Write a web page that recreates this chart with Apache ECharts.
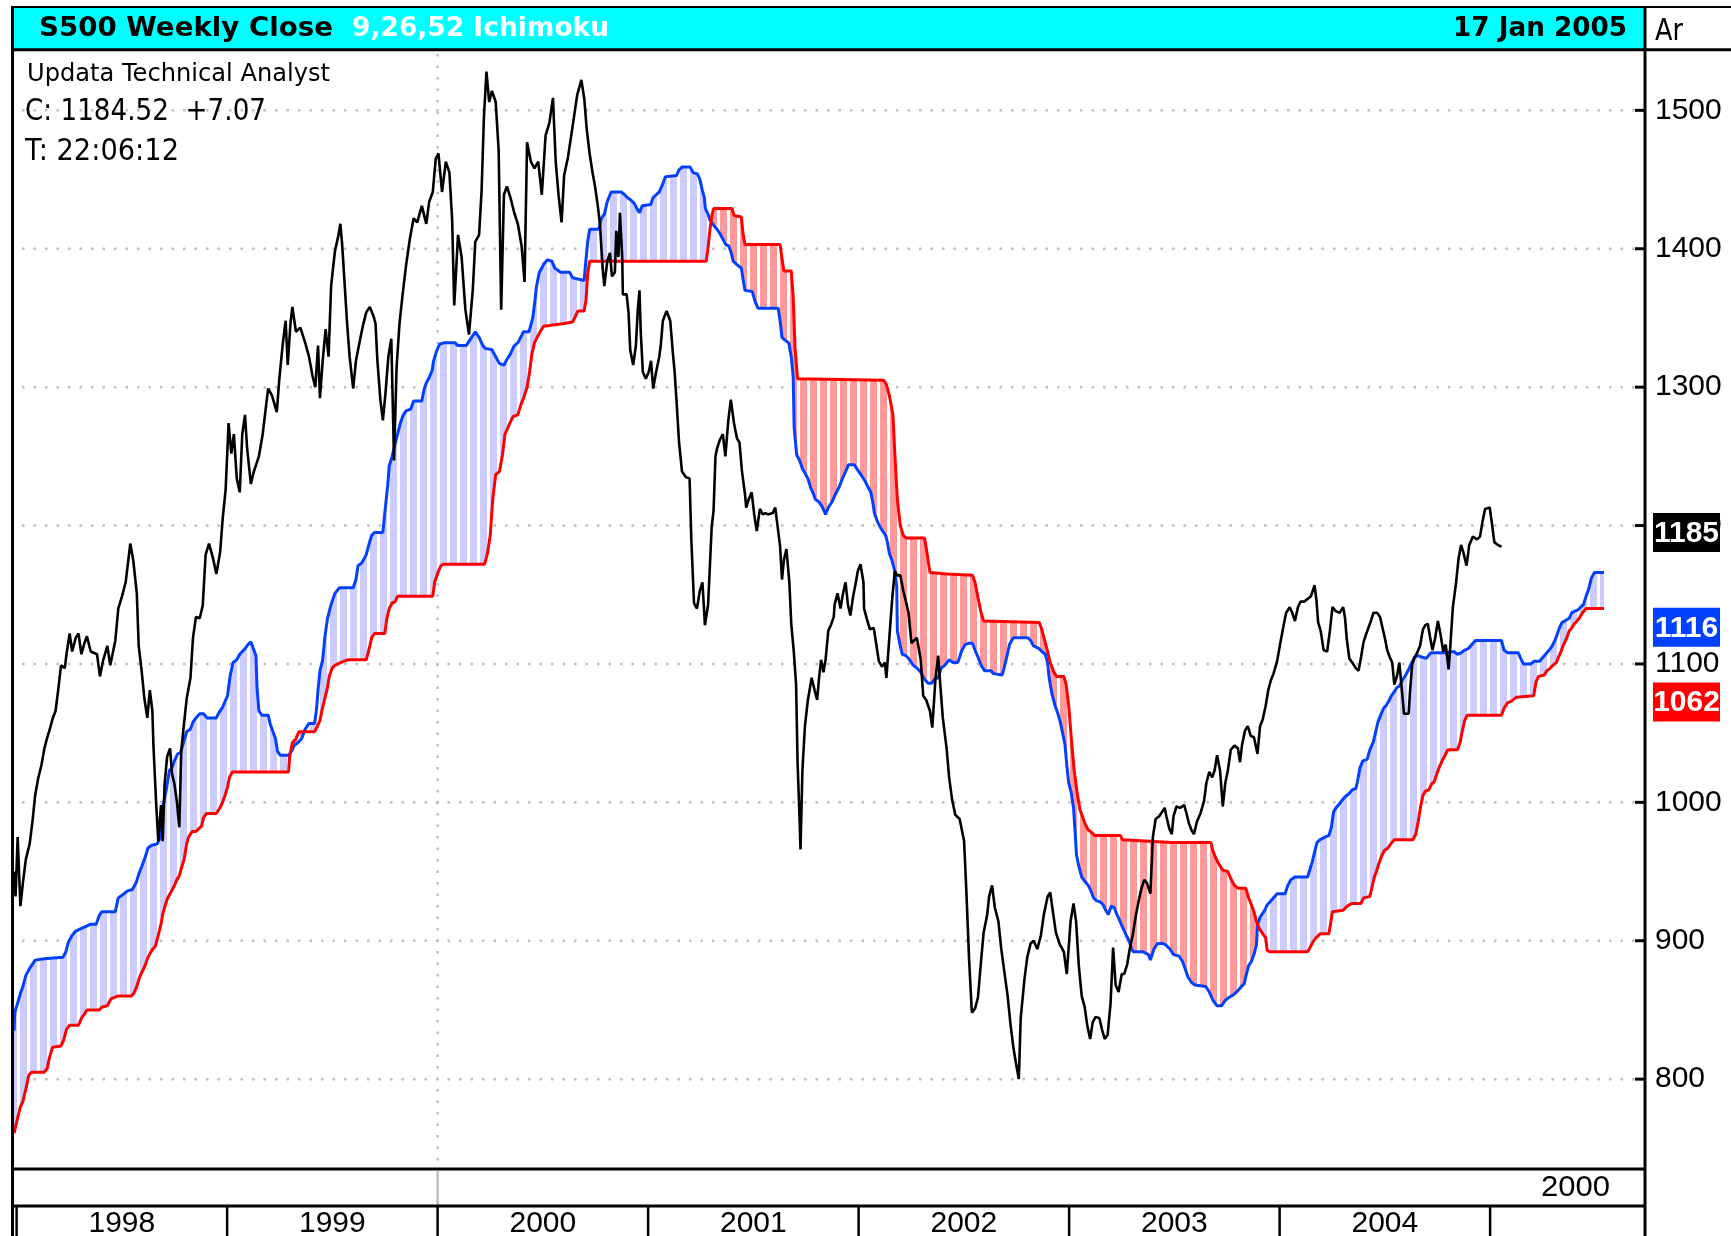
<!DOCTYPE html>
<html><head><meta charset="utf-8">
<script src="https://cdn.jsdelivr.net/npm/echarts@6/dist/echarts.min.js"></script>
<style>html,body{margin:0;padding:0;background:#fff}#c{width:1731px;height:1236px}</style>
</head><body><div id="c"></div>
<script>
// ---------------- DATA (x = year fraction, y = index value) ----------------
const yTicks = [800, 900, 1000, 1100, 1200, 1300, 1400, 1500];
const yearStarts = [1998, 1999, 2000, 2001, 2002, 2003, 2004, 2005];
const yearLabels = ['1998', '1999', '2000', '2001', '2002', '2003', '2004'];
const decadeStarts = [2000];
const decadeLabel = '2000';
const tagValues = [1184.52, 1116, 1062];
const tagLabels = ['1185', '1116', '1062'];
const titleMain = 'S500 Weekly Close';
const titleStudy = '9,26,52 Ichimoku';
const titleDate = '17 Jan 2005';
const cornerText = 'Ar';
const infoLines = ['Updata Technical Analyst', 'C: 1184.52  +7.07', 'T: 22:06:12'];

const closeData = [
[1997.988,950],[1997.995,932],[1998.005,975],[1998.018,925],[1998.030,942],[1998.044,959],[1998.062,970],[1998.076,987],[1998.088,1005],[1998.102,1017],[1998.118,1027],[1998.132,1039],[1998.144,1046],[1998.158,1053],[1998.172,1061],[1998.185,1066],[1998.199,1083],[1998.211,1099],[1998.229,1097],[1998.237,1107],[1998.252,1122],[1998.264,1109],[1998.281,1119],[1998.294,1122],[1998.308,1107],[1998.322,1115],[1998.334,1120],[1998.352,1109],[1998.382,1107],[1998.396,1091],[1998.410,1102],[1998.431,1113],[1998.445,1099],[1998.469,1117],[1998.483,1140],[1998.501,1149],[1998.518,1159],[1998.540,1187],[1998.554,1175],[1998.571,1151],[1998.580,1113],[1998.594,1095],[1998.607,1075],[1998.621,1061],[1998.633,1081],[1998.645,1066],[1998.650,1041],[1998.663,999],[1998.673,972],[1998.686,998],[1998.694,972],[1998.703,1013],[1998.715,1033],[1998.729,1039],[1998.738,1021],[1998.750,1013],[1998.761,1001],[1998.773,982],[1998.782,1037],[1998.796,1058],[1998.808,1075],[1998.826,1090],[1998.838,1119],[1998.852,1134],[1998.870,1133],[1998.884,1142],[1998.898,1179],[1998.914,1187],[1998.932,1177],[1998.949,1165],[1998.967,1181],[1998.979,1205],[1998.993,1226],[1999.007,1274],[1999.020,1252],[1999.032,1266],[1999.046,1234],[1999.060,1224],[1999.072,1266],[1999.085,1280],[1999.095,1256],[1999.113,1230],[1999.127,1239],[1999.151,1250],[1999.169,1266],[1999.183,1284],[1999.195,1299],[1999.213,1294],[1999.236,1282],[1999.248,1306],[1999.265,1332],[1999.278,1348],[1999.288,1316],[1999.301,1346],[1999.310,1358],[1999.327,1340],[1999.348,1343],[1999.371,1332],[1999.389,1322],[1999.406,1308],[1999.419,1300],[1999.432,1330],[1999.441,1292],[1999.454,1319],[1999.468,1342],[1999.482,1322],[1999.494,1373],[1999.512,1398],[1999.529,1410],[1999.538,1418],[1999.547,1402],[1999.559,1373],[1999.570,1346],[1999.582,1322],[1999.599,1299],[1999.612,1319],[1999.626,1330],[1999.643,1343],[1999.661,1354],[1999.678,1358],[1999.696,1351],[1999.705,1346],[1999.714,1319],[1999.728,1291],[1999.740,1276],[1999.752,1295],[1999.766,1322],[1999.780,1335],[1999.793,1247],[1999.805,1314],[1999.819,1346],[1999.833,1366],[1999.851,1389],[1999.868,1407],[1999.886,1422],[1999.903,1419],[1999.925,1431],[1999.946,1418],[1999.960,1434],[1999.977,1441],[1999.991,1465],[2000.004,1469],[2000.021,1441],[2000.039,1463],[2000.056,1455],[2000.069,1421],[2000.079,1359],[2000.097,1410],[2000.114,1394],[2000.132,1356],[2000.149,1338],[2000.167,1370],[2000.179,1405],[2000.197,1410],[2000.209,1442],[2000.220,1495],[2000.232,1528],[2000.245,1506],[2000.258,1514],[2000.276,1506],[2000.290,1471],[2000.302,1356],[2000.315,1439],[2000.329,1445],[2000.346,1437],[2000.364,1426],[2000.381,1418],[2000.399,1402],[2000.413,1376],[2000.425,1477],[2000.443,1463],[2000.460,1458],[2000.478,1463],[2000.495,1439],[2000.513,1482],[2000.531,1491],[2000.548,1509],[2000.561,1463],[2000.575,1438],[2000.589,1419],[2000.601,1453],[2000.619,1466],[2000.636,1483],[2000.663,1511],
[2000.683,1522],[2000.697,1508],[2000.708,1487],[2000.722,1469],[2000.736,1455],[2000.748,1445],[2000.761,1431],[2000.771,1418],[2000.784,1386],[2000.792,1373],[2000.806,1391],[2000.819,1397],[2000.828,1380],[2000.842,1383],[2000.849,1413],[2000.859,1394],[2000.866,1426],[2000.877,1394],[2000.880,1367],[2000.898,1367],[2000.907,1354],[2000.915,1327],[2000.929,1316],[2000.942,1330],[2000.951,1356],[2000.959,1370],[2000.965,1340],[2000.975,1311],[2000.989,1306],[2001.003,1311],[2001.014,1319],[2001.024,1299],[2001.038,1311],[2001.053,1322],[2001.060,1330],[2001.070,1348],[2001.088,1355],[2001.105,1348],[2001.118,1324],[2001.126,1311],[2001.135,1290],[2001.147,1260],[2001.161,1239],[2001.179,1235],[2001.197,1234],[2001.205,1191],[2001.218,1144],[2001.232,1140],[2001.246,1153],[2001.258,1159],[2001.270,1128],[2001.285,1143],[2001.293,1169],[2001.302,1199],[2001.311,1211],[2001.320,1250],[2001.328,1256],[2001.341,1262],[2001.355,1266],[2001.367,1250],[2001.381,1276],[2001.393,1291],[2001.408,1274],[2001.422,1263],[2001.434,1260],[2001.446,1239],[2001.460,1223],[2001.466,1213],[2001.478,1219],[2001.492,1224],[2001.504,1208],[2001.516,1196],[2001.531,1212],[2001.545,1208],[2001.557,1209],[2001.569,1208],[2001.592,1209],[2001.604,1213],[2001.618,1196],[2001.627,1185],[2001.636,1161],[2001.645,1175],[2001.657,1183],[2001.671,1159],[2001.680,1129],[2001.692,1109],[2001.703,1085],[2001.710,1029],[2001.720,986],[2001.724,966],[2001.733,1023],[2001.745,1055],[2001.759,1074],[2001.777,1090],[2001.791,1081],[2001.803,1074],[2001.812,1090],[2001.822,1103],[2001.833,1094],[2001.843,1103],[2001.856,1124],[2001.868,1128],[2001.882,1134],[2001.886,1143],[2001.900,1151],[2001.914,1140],[2001.926,1151],[2001.938,1159],[2001.949,1143],[2001.961,1135],[2001.973,1148],[2001.987,1159],[2001.996,1167],[2002.009,1172],[2002.023,1159],[2002.026,1140],[2002.040,1132],[2002.054,1125],[2002.072,1126],[2002.084,1114],[2002.096,1102],[2002.111,1098],[2002.125,1101],[2002.132,1090],[2002.146,1119],[2002.160,1148],[2002.172,1167],[2002.184,1164],[2002.198,1164],[2002.212,1153],[2002.225,1145],[2002.237,1137],[2002.251,1115],[2002.277,1119],[2002.295,1103],[2002.307,1077],[2002.321,1074],[2002.339,1066],[2002.350,1054],[2002.365,1089],[2002.378,1106],[2002.388,1085],[2002.400,1061],[2002.418,1039],[2002.430,1018],[2002.444,1002],[2002.459,991],[2002.480,988],[2002.501,972],[2002.511,939],[2002.525,886],[2002.538,848],[2002.553,851],[2002.567,859],[2002.582,886],[2002.594,906],[2002.611,919],[2002.620,932],[2002.634,940],[2002.647,924],[2002.664,914],[2002.677,895],[2002.691,879],[2002.708,860],[2002.722,839],[2002.735,823],[2002.747,812],[2002.761,800],[2002.770,844],[2002.787,871],[2002.801,888],[2002.817,898],[2002.831,900],[2002.849,894],[2002.866,904],[2002.880,919],[2002.898,932],[2002.910,935],[2002.924,920],[2002.937,906],[2002.954,898],[2002.975,892],[2002.989,876],[2003.007,914],[2003.021,927],[2003.033,914],[2003.046,882],[2003.060,860],[2003.074,852],[2003.086,839],[2003.100,829],[2003.112,841],[2003.126,845],[2003.144,844],[2003.156,836],[2003.169,829],[2003.183,832],[2003.197,855],[2003.209,895],[2003.221,868],[2003.235,863],[2003.250,876],[2003.262,876],[2003.276,883],[2003.288,894],[2003.302,904],[2003.318,919],[2003.332,930],
[2003.344,938],[2003.357,944],[2003.369,942],[2003.386,934],[2003.398,975],[2003.411,988],[2003.428,990],[2003.454,996],[2003.462,990],[2003.476,981],[2003.488,977],[2003.496,990],[2003.510,997],[2003.527,996],[2003.547,998],[2003.556,993],[2003.569,985],[2003.581,980],[2003.593,977],[2003.607,986],[2003.624,992],[2003.641,1001],[2003.652,1014],[2003.666,1022],[2003.680,1018],[2003.691,1023],[2003.703,1034],[2003.717,1023],[2003.730,997],[2003.742,1014],[2003.754,1023],[2003.768,1038],[2003.785,1041],[2003.802,1039],[2003.812,1029],[2003.822,1042],[2003.836,1052],[2003.849,1055],[2003.863,1048],[2003.878,1047],[2003.895,1035],[2003.907,1055],[2003.920,1060],[2003.934,1070],[2003.946,1081],[2003.958,1088],[2003.971,1093],[2003.988,1102],[2004.002,1114],[2004.019,1128],[2004.031,1137],[2004.048,1141],[2004.060,1137],[2004.073,1131],[2004.087,1141],[2004.099,1145],[2004.116,1145],[2004.133,1147],[2004.149,1149],[2004.166,1157],[2004.175,1146],[2004.183,1130],[2004.195,1124],[2004.209,1110],[2004.226,1109],[2004.239,1124],[2004.251,1141],[2004.268,1138],[2004.285,1137],[2004.302,1141],[2004.311,1133],[2004.319,1118],[2004.331,1104],[2004.345,1101],[2004.362,1097],[2004.375,1095],[2004.387,1105],[2004.399,1116],[2004.412,1122],[2004.429,1129],[2004.446,1137],[2004.463,1137],[2004.477,1134],[2004.489,1126],[2004.501,1118],[2004.511,1110],[2004.523,1105],[2004.535,1101],[2004.545,1085],[2004.557,1091],[2004.569,1101],[2004.579,1084],[2004.591,1064],[2004.613,1064],[2004.620,1081],[2004.630,1100],[2004.642,1105],[2004.653,1108],[2004.667,1113],[2004.681,1125],[2004.692,1128],[2004.704,1129],[2004.714,1120],[2004.726,1110],[2004.738,1118],[2004.752,1131],[2004.765,1121],[2004.777,1109],[2004.789,1114],[2004.803,1096],[2004.811,1113],[2004.823,1141],[2004.837,1157],[2004.850,1176],[2004.862,1186],[2004.874,1180],[2004.888,1171],[2004.901,1186],[2004.918,1192],[2004.938,1190],[2004.952,1192],[2004.964,1203],[2004.976,1212],[2004.998,1213],[2005.010,1200],[2005.020,1188],[2005.037,1186],[2005.054,1184.52]
];

const spanA = [
[1997.988,835],[1997.991,848],[1998.005,855],[1998.018,862],[1998.030,867],[1998.044,875],[1998.062,880],[1998.088,886],[1998.132,887],[1998.220,888],[1998.234,892],[1998.246,899],[1998.264,904],[1998.281,907],[1998.308,909],[1998.325,910],[1998.352,912],[1998.378,912],[1998.392,918],[1998.404,921],[1998.469,921],[1998.483,931],[1998.510,934],[1998.527,936],[1998.550,937],[1998.568,942],[1998.580,948],[1998.598,955],[1998.612,961],[1998.624,967],[1998.642,969],[1998.668,970],[1998.680,974],[1998.694,996],[1998.712,1010],[1998.726,1023],[1998.738,1025],[1998.747,1029],[1998.765,1035],[1998.779,1036],[1998.796,1045],[1998.808,1051],[1998.826,1053],[1998.838,1058],[1998.852,1061],[1998.870,1064],[1998.888,1064],[1998.905,1061],[1998.949,1061],[1998.962,1065],[1998.976,1068],[1999.002,1077],[1999.014,1091],[1999.028,1101],[1999.046,1103],[1999.060,1107],[1999.072,1109],[1999.085,1111],[1999.099,1114],[1999.113,1116],[1999.125,1111],[1999.137,1106],[1999.142,1083],[1999.151,1066],[1999.165,1063],[1999.195,1063],[1999.204,1057],[1999.218,1051],[1999.230,1046],[1999.239,1037],[1999.253,1034],[1999.292,1034],[1999.310,1038],[1999.318,1041],[1999.336,1043],[1999.354,1046],[1999.371,1053],[1999.389,1057],[1999.415,1057],[1999.424,1066],[1999.432,1081],[1999.441,1095],[1999.454,1103],[1999.464,1119],[1999.477,1133],[1999.494,1143],[1999.512,1151],[1999.534,1155],[1999.599,1155],[1999.612,1161],[1999.622,1171],[1999.640,1173],[1999.661,1179],[1999.675,1187],[1999.687,1193],[1999.700,1195],[1999.740,1195],[1999.749,1209],[1999.763,1229],[1999.770,1243],[1999.784,1250],[1999.798,1259],[1999.810,1266],[1999.823,1274],[1999.837,1280],[1999.851,1283],[1999.872,1284],[1999.886,1290],[1999.925,1290],[1999.935,1298],[1999.946,1303],[1999.960,1307],[1999.974,1312],[1999.981,1319],[1999.995,1326],[2000.009,1331],[2000.030,1332],[2000.083,1332],[2000.097,1330],[2000.136,1330],[2000.153,1334],[2000.179,1340],[2000.197,1336],[2000.215,1330],[2000.227,1328],[2000.258,1327],[2000.276,1322],[2000.294,1317],[2000.315,1316],[2000.329,1320],[2000.346,1324],[2000.364,1330],[2000.381,1332],[2000.395,1336],[2000.408,1340],[2000.434,1340],[2000.452,1350],[2000.462,1362],[2000.469,1372],[2000.483,1383],[2000.495,1386],[2000.504,1389],[2000.522,1392],[2000.543,1391],[2000.557,1386],[2000.584,1383],[2000.627,1383],[2000.641,1379],[2000.696,1377],
[2000.701,1386],[2000.713,1405],[2000.722,1414],[2000.766,1414],[2000.778,1422],[2000.792,1425],[2000.806,1434],[2000.824,1441],[2000.872,1441],[2000.889,1439],[2000.901,1437],[2000.919,1435],[2000.933,1433],[2000.947,1429],[2000.959,1426],[2000.972,1431],[2001.012,1432],[2001.024,1437],[2001.038,1439],[2001.053,1441],[2001.070,1447],[2001.082,1452],[2001.135,1453],[2001.147,1457],[2001.161,1459],[2001.200,1459],[2001.214,1455],[2001.235,1454],[2001.246,1450],[2001.258,1442],[2001.267,1437],[2001.272,1429],[2001.285,1425],[2001.293,1421],[2001.311,1417],[2001.328,1414],[2001.341,1411],[2001.355,1407],[2001.369,1403],[2001.383,1402],[2001.393,1398],[2001.404,1391],[2001.418,1389],[2001.443,1386],[2001.451,1378],[2001.460,1370],[2001.495,1369],[2001.508,1362],[2001.522,1357],[2001.618,1357],[2001.627,1348],[2001.636,1336],[2001.650,1334],[2001.668,1332],[2001.680,1322],[2001.689,1308],[2001.694,1270],[2001.706,1251],[2001.720,1247],[2001.733,1241],[2001.745,1238],[2001.759,1234],[2001.773,1227],[2001.785,1223],[2001.794,1219],[2001.812,1217],[2001.829,1213],[2001.843,1208],[2001.856,1213],[2001.873,1217],[2001.891,1223],[2001.908,1228],[2001.926,1235],[2001.938,1239],[2001.952,1244],[2001.979,1244],[2001.996,1240],[2002.014,1236],[2002.031,1232],[2002.044,1228],[2002.058,1224],[2002.067,1217],[2002.075,1209],[2002.089,1203],[2002.102,1199],[2002.114,1196],[2002.128,1193],[2002.137,1188],[2002.146,1180],[2002.158,1175],[2002.172,1167],[2002.181,1156],[2002.184,1124],[2002.195,1115],[2002.207,1107],[2002.225,1106],[2002.242,1103],[2002.260,1099],[2002.277,1097],[2002.295,1094],[2002.313,1089],[2002.330,1086],[2002.348,1086],[2002.360,1089],[2002.378,1090],[2002.392,1097],[2002.409,1099],[2002.430,1103],[2002.448,1101],[2002.471,1101],[2002.480,1105],[2002.488,1109],[2002.506,1114],[2002.524,1115],[2002.541,1115],[2002.553,1110],[2002.567,1105],[2002.582,1099],[2002.599,1095],[2002.629,1095],[2002.641,1093],[2002.682,1092],[2002.691,1097],[2002.705,1106],[2002.717,1114],[2002.735,1119],[2002.805,1119],[2002.817,1117],[2002.831,1113],[2002.858,1111],[2002.870,1109],[2002.887,1107],[2002.898,1101],[2002.905,1090],[2002.919,1078],[2002.933,1070],[2002.945,1065],[2002.958,1058],[2002.968,1051],[2002.980,1042],[2002.989,1027],[2002.998,1014],[2003.010,1007],[2003.021,996],[2003.028,980],[2003.035,962],[2003.046,954],[2003.060,946],[2003.074,943],[2003.091,940],[2003.104,936],[2003.116,931],[2003.130,929],[2003.148,928],[2003.162,926],[2003.174,922],[2003.186,919],[2003.200,925],[2003.214,924],[2003.227,919],[2003.239,915],[2003.253,910],[2003.271,904],[2003.285,900],[2003.297,894],[2003.306,892],
[2003.352,892],[2003.377,890],[2003.386,886],[2003.403,894],[2003.420,898],[2003.445,898],[2003.459,897],[2003.479,894],[2003.496,890],[2003.522,889],[2003.539,885],[2003.551,880],[2003.564,874],[2003.581,870],[2003.598,868],[2003.649,867],[2003.666,863],[2003.683,857],[2003.703,853],[2003.725,853],[2003.742,857],[2003.759,859],[2003.781,861],[2003.802,864],[2003.819,867],[2003.832,869],[2003.839,874],[2003.853,882],[2003.866,885],[2003.878,890],[2003.890,897],[2003.895,911],[2003.907,917],[2003.929,922],[2003.941,926],[2003.954,928],[2003.971,931],[2003.988,934],[2004.026,934],[2004.039,940],[2004.053,944],[2004.073,946],[2004.133,946],[2004.141,950],[2004.155,957],[2004.166,964],[2004.178,971],[2004.192,973],[2004.217,975],[2004.234,976],[2004.246,982],[2004.256,993],[2004.268,996],[2004.280,998],[2004.294,1001],[2004.311,1004],[2004.328,1006],[2004.345,1009],[2004.362,1010],[2004.370,1015],[2004.382,1025],[2004.395,1030],[2004.416,1031],[2004.429,1038],[2004.446,1044],[2004.455,1050],[2004.467,1058],[2004.480,1063],[2004.494,1068],[2004.506,1070],[2004.518,1073],[2004.531,1077],[2004.545,1080],[2004.557,1083],[2004.569,1084],[2004.582,1088],[2004.599,1092],[2004.613,1096],[2004.625,1100],[2004.642,1105],[2004.658,1106],[2004.675,1105],[2004.697,1104],[2004.718,1108],[2004.786,1108],[2004.828,1109],[2004.845,1107],[2004.862,1108],[2004.879,1110],[2004.896,1111],[2004.913,1114],[2004.930,1117],[2005.054,1117],[2005.066,1110],[2005.083,1108],[2005.134,1108],[2005.145,1104],[2005.159,1100],[2005.193,1100],[2005.210,1102],[2005.235,1102],[2005.252,1105],[2005.269,1108],[2005.281,1110],[2005.295,1113],[2005.308,1117],[2005.320,1122],[2005.329,1126],[2005.342,1130],[2005.354,1131],[2005.376,1133],[2005.388,1137],[2005.400,1138],[2005.417,1139],[2005.430,1141],[2005.444,1143],[2005.456,1149],[2005.468,1154],[2005.481,1162],[2005.495,1166],[2005.541,1166]
];

const spanB = [
[1997.988,761],[1998.005,772],[1998.018,780],[1998.030,784],[1998.044,793],[1998.058,803],[1998.071,805],[1998.132,805],[1998.146,808],[1998.155,815],[1998.171,823],[1998.211,824],[1998.223,828],[1998.237,836],[1998.252,839],[1998.294,839],[1998.308,844],[1998.322,847],[1998.334,850],[1998.392,850],[1998.404,852],[1998.431,853],[1998.448,858],[1998.480,860],[1998.545,860],[1998.557,862],[1998.571,867],[1998.585,874],[1998.598,878],[1998.610,882],[1998.624,888],[1998.642,893],[1998.659,896],[1998.673,904],[1998.686,912],[1998.694,919],[1998.703,924],[1998.715,930],[1998.729,934],[1998.747,939],[1998.761,944],[1998.773,947],[1998.782,952],[1998.796,959],[1998.808,970],[1998.817,975],[1998.835,979],[1998.852,979],[1998.866,981],[1998.879,983],[1998.888,989],[1998.902,992],[1998.949,992],[1998.962,995],[1998.976,999],[1998.990,1005],[1999.002,1011],[1999.011,1018],[1999.025,1022],[1999.292,1022],[1999.297,1033],[1999.310,1043],[1999.327,1046],[1999.341,1051],[1999.415,1051],[1999.429,1055],[1999.441,1059],[1999.450,1066],[1999.464,1075],[1999.477,1083],[1999.485,1091],[1999.499,1097],[1999.512,1099],[1999.538,1101],[1999.573,1103],[1999.661,1103],[1999.675,1111],[1999.687,1119],[1999.700,1122],[1999.749,1122],[1999.758,1132],[1999.770,1140],[1999.784,1144],[1999.798,1145],[1999.810,1149],[1999.977,1149],[1999.986,1159],[2000.004,1167],[2000.016,1171],[2000.027,1172],[2000.223,1172],[2000.237,1180],[2000.250,1193],[2000.262,1219],[2000.276,1237],[2000.294,1239],[2000.308,1251],[2000.320,1266],[2000.332,1270],[2000.346,1275],[2000.360,1279],[2000.381,1280],[2000.395,1287],[2000.408,1292],[2000.425,1300],[2000.437,1311],[2000.448,1324],[2000.460,1332],[2000.473,1336],[2000.487,1340],[2000.504,1344],[2000.601,1346],[2000.641,1347],[2000.654,1351],[2000.666,1355],[2000.696,1355],
[2000.705,1363],[2000.713,1382],[2000.722,1391],[2001.276,1391],[2001.285,1401],[2001.293,1413],[2001.302,1423],[2001.311,1429],[2001.399,1429],[2001.408,1424],[2001.443,1423],[2001.451,1411],[2001.460,1403],[2001.627,1403],[2001.636,1393],[2001.645,1384],[2001.680,1384],[2001.689,1366],[2001.698,1328],[2001.710,1306],[2002.119,1305],[2002.132,1302],[2002.146,1294],[2002.163,1280],[2002.172,1252],[2002.184,1219],[2002.198,1200],[2002.212,1193],[2002.225,1191],[2002.313,1191],[2002.321,1184],[2002.330,1175],[2002.339,1166],[2002.418,1165],[2002.427,1164],[2002.541,1164],[2002.553,1159],[2002.567,1148],[2002.582,1137],[2002.594,1131],[2002.858,1130],[2002.870,1125],[2002.884,1117],[2002.898,1109],[2002.910,1101],[2002.928,1094],[2002.940,1091],[2002.975,1091],[2002.986,1085],[2002.998,1070],[2003.010,1047],[2003.024,1023],[2003.038,1007],[2003.051,995],[2003.063,990],[2003.077,984],[2003.091,980],[2003.109,978],[2003.121,976],[2003.244,976],[2003.253,973],
[2003.488,971],[2003.674,971],[2003.683,965],[2003.696,960],[2003.713,955],[2003.730,951],[2003.754,950],[2003.768,945],[2003.785,940],[2003.802,938],[2003.839,938],[2003.853,931],[2003.866,926],[2003.878,921],[2003.890,914],[2003.903,909],[2003.920,905],[2003.934,902],[2003.941,893],[2003.954,892],[2004.133,892],[2004.144,895],[2004.158,899],[2004.172,902],[2004.192,905],[2004.234,905],[2004.243,913],[2004.251,921],[2004.302,922],[2004.314,924],[2004.331,926],[2004.345,927],[2004.387,927],[2004.399,931],[2004.429,932],[2004.438,938],[2004.450,946],[2004.460,950],[2004.472,956],[2004.484,961],[2004.497,965],[2004.514,967],[2004.528,970],[2004.545,973],[2004.633,973],[2004.647,977],[2004.658,986],[2004.670,997],[2004.681,1005],[2004.692,1008],[2004.709,1009],[2004.721,1013],[2004.735,1015],[2004.748,1021],[2004.760,1026],[2004.772,1030],[2004.786,1034],[2004.799,1038],[2004.845,1038],[2004.857,1043],[2004.867,1051],[2004.879,1059],[2004.891,1063],[2005.054,1063],[2005.066,1068],[2005.083,1072],[2005.100,1073],[2005.125,1076],[2005.207,1077],[2005.218,1087],[2005.230,1091],[2005.257,1092],[2005.269,1095],[2005.286,1097],[2005.298,1099],[2005.315,1101],[2005.325,1105],[2005.337,1109],[2005.349,1114],[2005.362,1118],[2005.376,1124],[2005.388,1126],[2005.400,1129],[2005.413,1131],[2005.427,1134],[2005.439,1137],[2005.456,1140],[2005.541,1140]
];

// ---------------- LAYOUT / STYLE ----------------
const X_MIN = 1997.9876, X_MAX = 2005.7358, Y_MIN = 735.8, Y_MAX = 1543.6;
const BLUE = '#0040ff', RED = '#ff0000';
const tagColors = ['#000000', BLUE, RED];

function stripe(color) {
  const c = document.createElement('canvas'); c.width = 10; c.height = 4;
  const g = c.getContext('2d');
  g.fillStyle = color; g.fillRect(0, 0, 7, 4);
  g.fillStyle = '#ffffff'; g.fillRect(7, 0, 3, 4);
  return c;
}
const bluePattern = { image: stripe('#ccccff'), repeat: 'repeat' };
const redPattern = { image: stripe('#ff9999'), repeat: 'repeat' };

function interp(line, x) {
  if (x <= line[0][0]) return line[0][1];
  if (x >= line[line.length - 1][0]) return line[line.length - 1][1];
  let lo = 0, hi = line.length - 1;
  while (hi - lo > 1) { const m = (lo + hi) >> 1; if (line[m][0] <= x) lo = m; else hi = m; }
  const [x0, y0] = line[lo], [x1, y1] = line[hi];
  return x1 === x0 ? y1 : y0 + (y1 - y0) * (x - x0) / (x1 - x0);
}
function cloudPolys(A, B) {
  const lo = Math.max(A[0][0], B[0][0]), hi = Math.min(A[A.length - 1][0], B[B.length - 1][0]);
  const xs = Array.from(new Set(A.map(p => p[0]).concat(B.map(p => p[0]))))
    .filter(x => x >= lo && x <= hi).sort((a, b) => a - b);
  const pts = xs.map(x => [x, interp(A, x), interp(B, x)]);
  const polys = []; let cur = null;
  for (let i = 0; i < pts.length; i++) {
    const [x, a, b] = pts[i];
    const s = a >= b ? 1 : -1;
    if (!cur) { cur = { s, top: [[x, a]], bot: [[x, b]] }; continue; }
    if (s !== cur.s) {
      const [px, pa, pb] = pts[i - 1];
      const d0 = pa - pb, d1 = a - b, t = d0 / (d0 - d1);
      const xc = px + t * (x - px), yc = pa + t * (a - pa);
      cur.top.push([xc, yc]); cur.bot.push([xc, yc]); polys.push(cur);
      cur = { s, top: [[xc, yc]], bot: [[xc, yc]] };
    }
    cur.top.push([x, a]); cur.bot.push([x, b]);
  }
  if (cur) polys.push(cur);
  return polys;
}
const polys = cloudPolys(spanA, spanB);

const mctx = document.createElement('canvas').getContext('2d');
function fitText(text, x, yMid, w, size, weight, color, family) {
  mctx.font = weight + ' ' + size + 'px "' + family + '"';
  const mw = mctx.measureText(text).width || w;
  return { type: 'text', x: x, y: yMid, scaleX: w / mw, z: 20,
    style: { text: text, fill: color, fontSize: size, fontWeight: weight, fontFamily: family,
      verticalAlign: 'middle', textVerticalAlign: 'middle', align: 'left', textAlign: 'left' } };
}
function hline(x1, x2, y, w, color) {
  return { type: 'line', z: 15, shape: { x1: x1, y1: y, x2: x2, y2: y }, style: { stroke: color || '#000', lineWidth: w } };
}
function vline(x, y1, y2, w, color) {
  return { type: 'line', z: 15, shape: { x1: x, y1: y1, x2: x, y2: y2 }, style: { stroke: color || '#000', lineWidth: w } };
}

const chart = echarts.init(document.getElementById('c'), null, { renderer: 'canvas' });
const option = {
  animation: false,
  backgroundColor: '#ffffff',
  grid: [
    { left: 14, top: 50, width: 1631, height: 1118, show: false },
    { left: 14, top: 1170, width: 1631, height: 66, show: false }
  ],
  xAxis: [
    { type: 'value', gridIndex: 0, min: X_MIN, max: X_MAX, show: false },
    { type: 'value', gridIndex: 1, min: X_MIN, max: X_MAX, show: false }
  ],
  yAxis: [
    { type: 'value', gridIndex: 0, min: Y_MIN, max: Y_MAX, show: false },
    { type: 'value', gridIndex: 1, min: 0, max: 1, show: false }
  ],
  series: [
    { // horizontal dotted grid lines
      type: 'custom', xAxisIndex: 0, yAxisIndex: 0, z: 1, silent: true,
      data: yTicks.map(v => [X_MIN, v]),
      renderItem: function (params, api) {
        const cs = params.coordSys;
        const y = api.coord([api.value(0), api.value(1)])[1];
        return { type: 'line', shape: { x1: cs.x + 8, y1: y, x2: cs.x + cs.width - 10, y2: y },
          style: { stroke: '#c0c0c0', lineWidth: 2.5, lineDash: [2.5, 9] } };
      }
    },
    { // vertical dotted decade line
      type: 'custom', xAxisIndex: 0, yAxisIndex: 0, z: 1, silent: true,
      data: decadeStarts.map(v => [v, Y_MIN]),
      renderItem: function (params, api) {
        const cs = params.coordSys;
        const x = api.coord([api.value(0), api.value(1)])[0];
        return { type: 'line', shape: { x1: x, y1: cs.y + 4, x2: x, y2: cs.y + cs.height },
          style: { stroke: '#c0c0c0', lineWidth: 2.5, lineDash: [2.5, 9] } };
      }
    },
    { // kumo cloud fill
      type: 'custom', xAxisIndex: 0, yAxisIndex: 0, z: 2, silent: true,
      data: [[X_MIN, Y_MIN]],
      renderItem: function (params, api) {
        return { type: 'group', children: polys.map(p => ({
          type: 'polygon',
          shape: { points: p.top.concat(p.bot.slice().reverse()).map(q => api.coord(q)) },
          style: { fill: p.s > 0 ? bluePattern : redPattern }
        })) };
      }
    },
    { name: 'Span A', type: 'line', data: spanA, showSymbol: false, z: 3, silent: true,
      lineStyle: { color: BLUE, width: 3 } },
    { name: 'Span B', type: 'line', data: spanB, showSymbol: false, z: 3, silent: true,
      lineStyle: { color: RED, width: 3 } },
    { name: 'Close', type: 'line', data: closeData, showSymbol: false, z: 4, silent: true,
      lineStyle: { color: '#000', width: 2.6 } },
    { // y axis ticks + labels on the right
      type: 'custom', xAxisIndex: 0, yAxisIndex: 0, z: 5, silent: true, clip: false,
      data: yTicks.map(v => [X_MAX, v]),
      renderItem: function (params, api) {
        const cs = params.coordSys;
        const y = api.coord([api.value(0), api.value(1)])[1];
        const xr = cs.x + cs.width;
        return { type: 'group', children: [
          { type: 'line', shape: { x1: xr - 10, y1: y, x2: xr, y2: y }, style: { stroke: '#000', lineWidth: 3 } },
          { type: 'text', x: xr + 10, y: y, style: { text: String(yTicks[params.dataIndex]), fill: '#000',
            fontSize: 30, fontFamily: 'Liberation Sans', align: 'left', verticalAlign: 'middle',
            textAlign: 'left', textVerticalAlign: 'middle' } }
        ] };
      }
    },
    { // current value tags
      type: 'custom', xAxisIndex: 0, yAxisIndex: 0, z: 6, silent: true, clip: false,
      data: tagValues.map(v => [X_MAX, v]),
      renderItem: function (params, api) {
        const cs = params.coordSys;
        const i = params.dataIndex;
        const y = api.coord([api.value(0), api.value(1)])[1] - 14;
        const x = cs.x + cs.width + 8;
        return { type: 'group', children: [
          { type: 'rect', shape: { x: x, y: y - 20, width: 67, height: 39 }, style: { fill: tagColors[i] } },
          { type: 'text', x: x + 33.5, y: y + 0.5, style: { text: tagLabels[i], fill: '#fff', fontSize: 30,
            fontWeight: 'bold', fontFamily: 'Liberation Sans', align: 'center', verticalAlign: 'middle',
            textAlign: 'center', textVerticalAlign: 'middle' } }
        ] };
      }
    },
    { // year cells (bottom row)
      type: 'custom', xAxisIndex: 1, yAxisIndex: 1, z: 5, silent: true, clip: false,
      data: yearStarts.map(v => [v, 0]),
      renderItem: function (params, api) {
        const cs = params.coordSys;
        const i = params.dataIndex;
        const x = api.coord([api.value(0), 0])[0];
        const ch = [{ type: 'line', shape: { x1: x, y1: cs.y + 36, x2: x, y2: cs.y + cs.height + 2 },
          style: { stroke: '#000', lineWidth: 2.5 } }];
        if (i < yearLabels.length) {
          const xn = api.coord([yearStarts[i + 1], 0])[0];
          ch.push({ type: 'text', x: (x + xn) / 2, y: cs.y + 54, style: { text: yearLabels[i], fill: '#000',
            fontSize: 30, fontFamily: 'Liberation Sans', align: 'center', verticalAlign: 'middle',
            textAlign: 'center', textVerticalAlign: 'middle' } });
        }
        return { type: 'group', children: ch };
      }
    },
    { // decade separator (upper row)
      type: 'custom', xAxisIndex: 1, yAxisIndex: 1, z: 5, silent: true, clip: false,
      data: decadeStarts.map(v => [v, 0]),
      renderItem: function (params, api) {
        const cs = params.coordSys;
        const x = api.coord([api.value(0), 0])[0];
        return { type: 'line', shape: { x1: x, y1: cs.y + 1, x2: x, y2: cs.y + 35 },
          style: { stroke: '#c0c0c0', lineWidth: 2.5 } };
      }
    }
  ],
  graphic: { elements: [
    { type: 'rect', z: 14, shape: { x: 12, y: 7, width: 1633, height: 43 }, style: { fill: '#00ffff' } },
    hline(11, 1731, 7, 2),
    hline(11, 1731, 49.8, 3),
    vline(12.5, 6, 1236, 3),
    vline(1645, 6, 1236, 3),
    hline(11, 1645, 1169, 3),
    hline(11, 1645, 1206, 3),
    fitText(titleMain, 39, 28.8, 294, 27, 'bold', '#000', 'DejaVu Sans'),
    fitText(titleStudy, 352, 28.8, 257, 27, 'bold', '#fff', 'DejaVu Sans'),
    fitText(titleDate, 1453, 28.8, 174, 27, 'bold', '#000', 'DejaVu Sans'),
    fitText(cornerText, 1655, 32, 28, 30, 'normal', '#000', 'DejaVu Sans'),
    fitText(infoLines[0], 27, 74.5, 303, 25, 'normal', '#000', 'DejaVu Sans'),
    fitText(infoLines[1], 25, 111.5, 241, 31, 'normal', '#000', 'DejaVu Sans'),
    fitText(infoLines[2], 25, 151.5, 154, 31, 'normal', '#000', 'DejaVu Sans'),
    fitText(decadeLabel, 1541, 1188, 69, 30, 'normal', '#000', 'Liberation Sans')
  ] }
};
chart.setOption(option);
</script>
</body></html>
